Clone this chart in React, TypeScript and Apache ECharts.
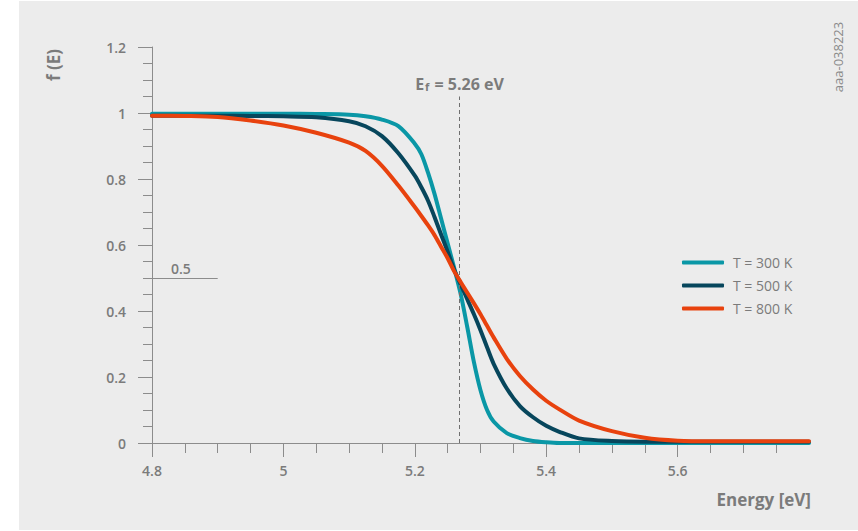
import React, { useEffect, useRef } from "react";
import * as echarts from "echarts";

// Energy samples (eV) and occupation probability f(E)
const energy = [
  4.8, 4.85, 4.9, 4.95, 5.0, 5.05, 5.1, 5.125, 5.15, 5.175, 5.2, 5.21, 5.22, 5.23, 5.24, 5.25,
  5.26, 5.27, 5.28, 5.29, 5.3, 5.31, 5.32, 5.34, 5.36, 5.38, 5.4, 5.42, 5.45, 5.5, 5.55, 5.6,
  5.65, 5.7, 5.75, 5.8,
];
const f300 = [
  0.998, 0.998, 0.998, 0.998, 0.998, 0.997, 0.995, 0.99, 0.98, 0.96, 0.907, 0.875, 0.82, 0.755,
  0.68, 0.605, 0.53, 0.45, 0.35, 0.245, 0.16, 0.1, 0.065, 0.03, 0.015, 0.006, 0.002, 0.0, 0.0,
  0.0, 0.0, 0.0, 0.0, 0.0, 0.0, 0.0,
];
const f500 = [
  0.992, 0.992, 0.992, 0.991, 0.99, 0.987, 0.975, 0.96, 0.93, 0.878, 0.81, 0.775, 0.735, 0.685,
  0.632, 0.58, 0.525, 0.48, 0.435, 0.39, 0.342, 0.29, 0.24, 0.165, 0.112, 0.078, 0.052, 0.034,
  0.014, 0.006, 0.004, 0.004, 0.004, 0.004, 0.004, 0.004,
];
const f800 = [
  0.992, 0.991, 0.988, 0.977, 0.962, 0.94, 0.91, 0.885, 0.84, 0.78, 0.715, 0.688, 0.66, 0.63,
  0.595, 0.56, 0.52, 0.487, 0.455, 0.423, 0.39, 0.355, 0.32, 0.255, 0.203, 0.162, 0.128, 0.102,
  0.068, 0.036, 0.016, 0.007, 0.005, 0.005, 0.005, 0.005,
];

const seriesNames = ["T = 300 K", "T = 500 K", "T = 800 K"];
const seriesColors = ["#0a97a6", "#07465c", "#e8420e"];
const xMajorTicks = [4.8, 5, 5.2, 5.4, 5.6];
const fermiEnergy = 5.268;
const fermiText = " = 5.26 eV";
const fermiLineTop = 1.05;
const halfLevel = 0.5;
const halfLineEnd = 4.9;

const GRAY = "#7b7b7b";
const AXIS = "#8c8c8c";
const FONT = "'Open Sans', 'Noto Sans', sans-serif";

export default function App() {
  const ref = useRef<HTMLDivElement>(null);

  useEffect(() => {
    const chart = echarts.init(ref.current!, null, { renderer: "svg" });
    const datasets = [f300, f500, f800];

    const series: any[] = datasets.map((vals, i) => ({
      name: seriesNames[i],
      type: "line",
      data: energy.map((e, k) => [e, vals[k]]),
      showSymbol: false,
      symbol: "none",
      smooth: 0.3,
      lineStyle: { color: seriesColors[i], width: 4, cap: "round", join: "round" },
      itemStyle: { color: seriesColors[i] },
      z: 3 + i,
    }));

    series[0].markLine = {
      silent: true,
      symbol: ["none", "none"],
      animation: false,
      data: [
        [
          {
            coord: [fermiEnergy, 0],
            lineStyle: { color: "#6f6f6f", width: 1, type: [4, 3] },
            label: {
              show: true,
              position: "end",
              distance: 5,
              formatter: "{a|E}{b|f}{a|" + fermiText + "}",
              rich: {
                a: { fontSize: 16, fontWeight: "bold", color: GRAY, fontFamily: FONT, lineHeight: 19, verticalAlign: "bottom" },
                b: { fontSize: 11, fontWeight: "bold", color: GRAY, fontFamily: FONT, lineHeight: 15, verticalAlign: "bottom", padding: [0, 1, 0, 1] },
              },
            },
          },
          { coord: [fermiEnergy, fermiLineTop] },
        ],
        [
          {
            coord: [4.8, halfLevel],
            lineStyle: { color: AXIS, width: 1, type: "solid" },
            label: {
              show: true,
              position: "insideMiddleTop",
              distance: 3,
              offset: [-4, 0],
              formatter: String(halfLevel),
              color: GRAY,
              fontSize: 14,
              fontWeight: 600,
              fontFamily: FONT,
            },
          },
          { coord: [halfLineEnd, halfLevel] },
        ],
      ],
    };

    chart.setOption({
      animation: false,
      backgroundColor: "transparent",
      textStyle: { fontFamily: FONT },
      grid: { left: 152, right: 49, top: 47, bottom: 88, containLabel: false },
      legend: {
        data: seriesNames,
        orient: "vertical",
        left: 677,
        top: 250,
        icon: "roundRect",
        itemWidth: 42,
        itemHeight: 4,
        itemGap: 8,
        textStyle: { color: GRAY, fontSize: 14, fontFamily: FONT, lineHeight: 15, padding: [0, 0, 0, 4] },
        selectedMode: false,
      },
      xAxis: {
        type: "value",
        min: 4.8,
        max: 5.8,
        interval: 0.2,
        axisLine: { show: true, onZero: false, lineStyle: { color: AXIS, width: 1 } },
        axisTick: { show: true, inside: false, length: 14, customValues: xMajorTicks, lineStyle: { color: AXIS } },
        minorTick: { show: true, splitNumber: 4, length: 10, lineStyle: { color: AXIS } },
        axisLabel: {
          customValues: xMajorTicks,
          margin: 20,
          color: GRAY,
          fontSize: 14,
          fontWeight: 600,
          fontFamily: FONT,
        },
        splitLine: { show: false },
        minorSplitLine: { show: false },
      },
      yAxis: {
        type: "value",
        min: 0,
        max: 1.2,
        interval: 0.2,
        axisLine: { show: true, lineStyle: { color: AXIS, width: 1 } },
        axisTick: { show: true, inside: false, length: 14, lineStyle: { color: AXIS } },
        minorTick: { show: true, splitNumber: 4, length: 9, lineStyle: { color: AXIS } },
        axisLabel: { margin: 26, color: GRAY, fontSize: 14, fontWeight: 600, fontFamily: FONT },
        splitLine: { show: false },
        minorSplitLine: { show: false },
      },
      graphic: [
        {
          type: "text",
          x: 53,
          y: 65,
          rotation: Math.PI / 2,
          style: {
            text: "f (E)",
            fill: GRAY,
            font: `bold 17px ${FONT}`,
            align: "center",
            verticalAlign: "middle",
          },
        },
        {
          type: "text",
          x: 811,
          y: 499,
          style: {
            text: "Energy [eV]",
            fill: GRAY,
            font: `bold 17px ${FONT}`,
            align: "right",
            verticalAlign: "middle",
          },
        },
        {
          type: "text",
          x: 838,
          y: 57,
          rotation: Math.PI / 2,
          style: {
            text: "aaa-038223",
            fill: "#8a8a8a",
            font: `13px ${FONT}`,
            align: "center",
            verticalAlign: "middle",
          },
        },
      ],
      series,
    });

    return () => chart.dispose();
  }, []);

  return (
    <div style={{ position: "fixed", left: 0, top: 0, width: 858, height: 531, background: "#ffffff" }}>
      <div style={{ position: "absolute", left: 19, top: 1, width: 839, height: 529, background: "#ececec" }} />
      <div ref={ref} style={{ position: "absolute", left: 0, top: 0, width: 858, height: 531 }} />
    </div>
  );
}
